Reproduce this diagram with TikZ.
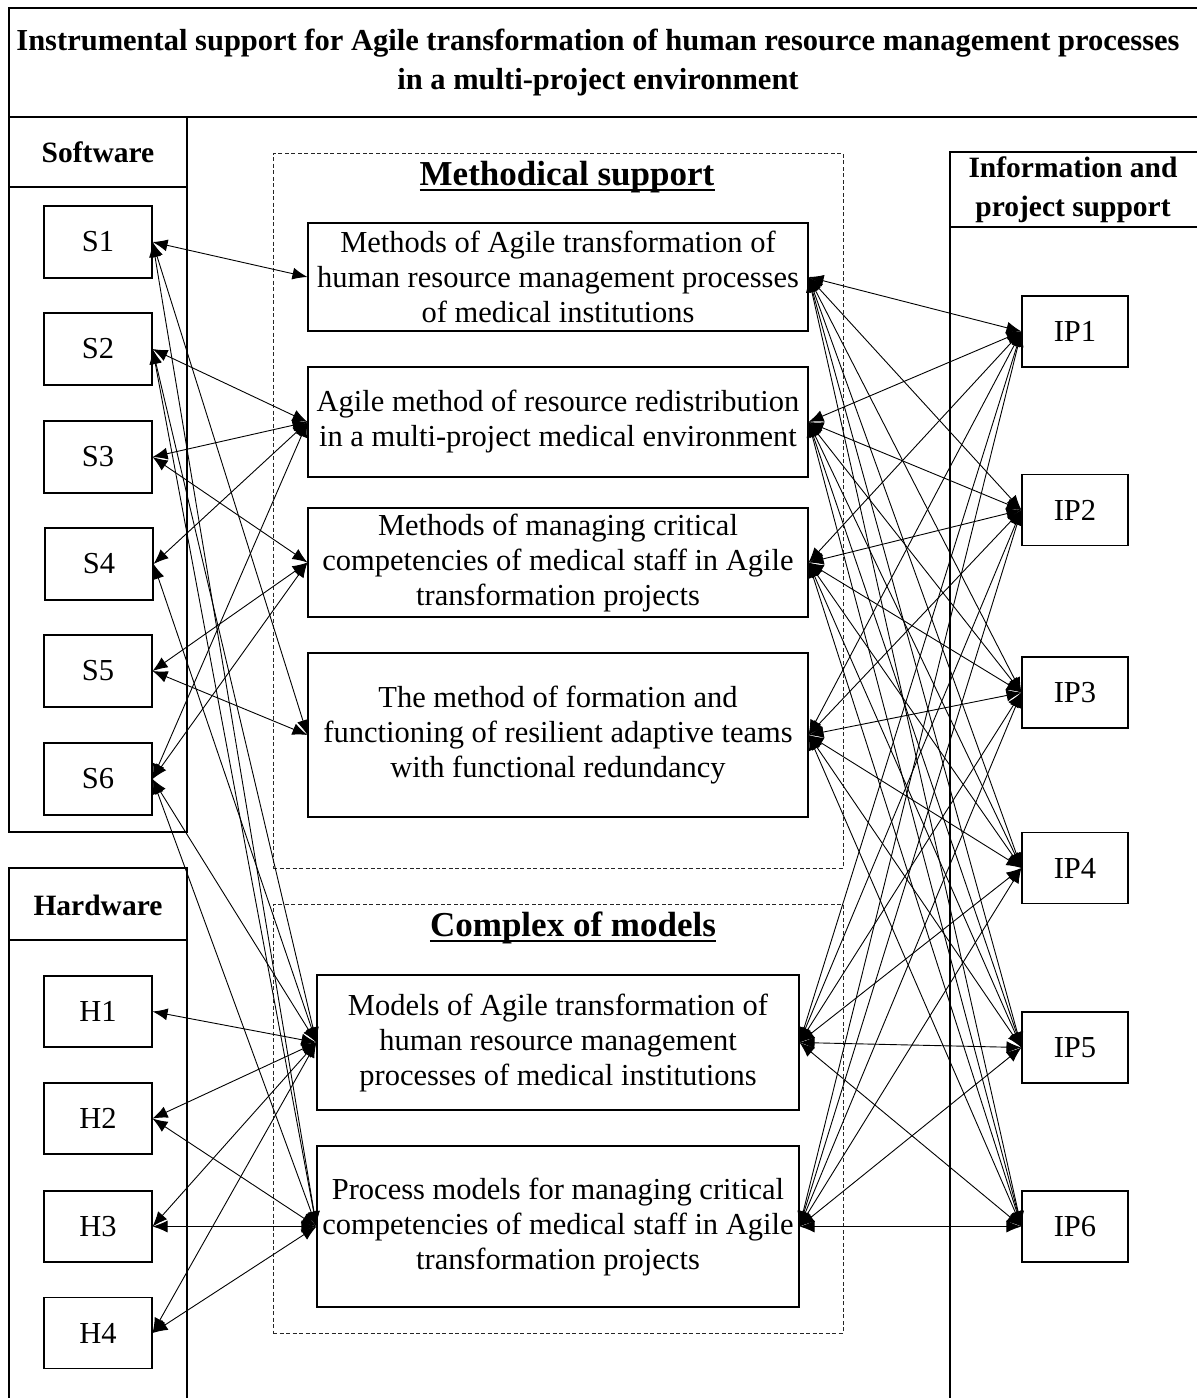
\documentclass[tikz,border=0pt]{standalone}
\usepackage{fontspec}
\setmainfont{Liberation Serif}
\usetikzlibrary{arrows.meta}
\newcommand\bxfont{\fontsize{30.5}{35}\selectfont}
\newcommand\hdfont{\fontsize{29.5}{39}\selectfont\bfseries}
\newcommand\ttlfont{\fontsize{30.5}{39}\selectfont\bfseries}
\newcommand\bigfont{\fontsize{35}{40}\selectfont\bfseries}
\begin{document}
\begin{tikzpicture}[x=1pt,y=-1pt,
  frame/.style={draw, line width=1.1pt},
  box/.style={draw, line width=1.1pt, inner sep=0pt, align=center, font=\bxfont},
  sbox/.style={box, minimum width=108pt, minimum height=72pt},
  ipbox/.style={box, minimum width=106pt, minimum height=71pt},
  mbox/.style={box, minimum width=500pt},
  cbox/.style={box, minimum width=482pt},
  dashbox/.style={draw, black!85, dash pattern=on 4pt off 2.5pt, line width=0.9pt, inner sep=0pt},
  head/.style={inner sep=0pt, align=center, font=\hdfont},
  uline/.style={line width=2.6pt},
  conn/.style={{Latex[length=15pt,width=12pt]}-{Latex[length=15pt,width=12pt]}, line width=0.9pt}]
\useasboundingbox (0,0) rectangle (1197,1398);
% frame
\draw[frame] (9,8) rectangle (1210,117);
\draw[frame] (9,117) -- (9,832) -- (187,832) -- (187,117);
\draw[frame] (9,187) -- (187,187);
\draw[frame] (9,1410) -- (9,868) -- (187,868) -- (187,1410);
\draw[frame] (9,940) -- (187,940);
\draw[frame] (950,1410) -- (950,152) -- (1210,152);
\draw[frame] (950,227) -- (1210,227);
% headings
\node[head, font=\ttlfont] (title) at (598,63) {Instrumental support for Agile transformation of human resource management processes\\in a multi-project environment};
\node[head] (sw) at (98,152) {Software};
\node[head] (hw) at (98,905) {Hardware};
\node[head] (ips) at (1073,190) {Information and\\project support};
% dashed groups
\node[dashbox, minimum width=570pt, minimum height=715pt] (msup) at (558,510.5) {};
\node[dashbox, minimum width=570pt, minimum height=429pt] (cmod) at (558,1118.5) {};
\node[inner sep=0pt, font=\bigfont] (msupt) at (567,177) {Methodical support};
\node[inner sep=0pt, font=\bigfont] (cmodt) at (573,928) {Complex of models};
\draw[uline] ([yshift=-4.5pt]msupt.base west) -- ([yshift=-4.5pt]msupt.base east);
\draw[uline] ([yshift=-4.5pt]cmodt.base west) -- ([yshift=-4.5pt]cmodt.base east);
% software
\node[sbox] (S1) at (98,242) {S1};
\node[sbox] (S2) at (98,349) {S2};
\node[sbox] (S3) at (98,457) {S3};
\node[sbox] (S4) at (99,564) {S4};
\node[sbox] (S5) at (98,671) {S5};
\node[sbox] (S6) at (98,779) {S6};
% hardware
\node[sbox, minimum height=71pt] (H1) at (98,1011.5) {H1};
\node[sbox, minimum height=71pt] (H2) at (98,1118.5) {H2};
\node[sbox, minimum height=71pt] (H3) at (98,1226.5) {H3};
\node[sbox, minimum height=71pt] (H4) at (98,1333) {H4};
% info & project
\node[ipbox] (IP1) at (1075,331.5) {IP1};
\node[ipbox] (IP2) at (1075,510) {IP2};
\node[ipbox] (IP3) at (1075,692.5) {IP3};
\node[ipbox] (IP4) at (1075,868) {IP4};
\node[ipbox] (IP5) at (1075,1047.5) {IP5};
\node[ipbox] (IP6) at (1075,1226.5) {IP6};
% methods
\node[mbox, minimum height=108pt] (M1) at (558,277) {Methods of Agile transformation of\\human resource management processes\\of medical institutions};
\node[mbox, minimum height=110pt] (M2) at (558,422) {Agile method of resource redistribution\\in a multi-project medical environment};
\node[mbox, minimum height=109pt] (M3) at (558,562.5) {Methods of managing critical\\competencies of medical staff in Agile\\transformation projects};
\node[mbox, minimum height=164pt] (M4) at (558,735) {The method of formation and\\functioning of resilient adaptive teams\\with functional redundancy};
% models
\node[cbox, minimum height=135pt] (C1) at (558,1042.5) {Models of Agile transformation of\\human resource management\\processes of medical institutions};
\node[cbox, minimum height=161pt] (C2) at (558,1226.5) {Process models for managing critical\\competencies of medical staff in Agile\\transformation projects};
% connectors left
\foreach \a/\b in {S1/M1,S1/M4,S1/C2,S2/M2,S2/C1,S2/C2,S3/M2,S3/M3,S4/M2,S4/C1,S5/M3,S5/M4,S6/M2,S6/M3,S6/C1,S6/C2,H1/C1,H2/C1,H2/C2,H3/C1,H3/C2,H4/C1,H4/C2}
  \draw[conn] (\a.east) -- (\b.west);
% connectors right
\foreach \m in {M1,M2,M3,M4,C1,C2}
  \foreach \i in {1,...,6}
    \draw[conn] (\m.east) -- (IP\i.west);
\end{tikzpicture}
\end{document}
